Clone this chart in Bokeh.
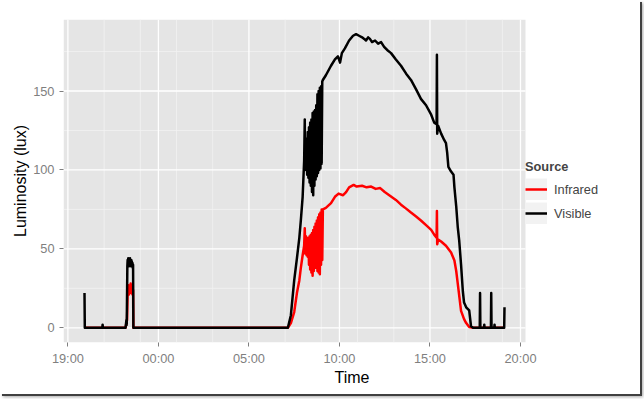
import pandas as pd
from bokeh.plotting import figure
from bokeh.models import (Range1d, FixedTicker, DatetimeTickFormatter, Legend,
                          LegendItem, ColumnDataSource)
from bokeh.embed import file_html
from bokeh.resources import INLINE

# ---------------- data ----------------
visible_time = [
    "19:55", "19:56", "20:54", "20:55", "20:56", "22:11", "22:14", "22:15",
    "22:17", "22:18", "22:19", "22:20", "22:21", "22:22", "22:23", "22:24",
    "22:25", "22:26", "22:27", "22:28", "22:29", "22:30", "22:31", "22:32",
    "22:33", "22:34", "22:35", "22:36", "22:37",
    "07:09", "07:19", "07:30", "07:39", "07:47", "07:52", "07:58", "08:03",
    "08:05", "08:06", "08:07", "08:09", "08:11", "08:13", "08:15", "08:17",
    "08:19", "08:21", "08:23", "08:25", "08:27", "08:29", "08:31", "08:33",
    "08:35", "08:37", "08:39", "08:41", "08:43", "08:45", "08:47", "08:49",
    "08:51", "08:53", "08:55", "08:57", "08:59", "09:01", "09:03", "09:05",
    "09:15", "09:32", "09:45", "09:55", "10:02", "10:08", "10:18", "10:32",
    "10:45", "10:55", "11:05", "11:15", "11:22", "11:28", "11:35", "11:41",
    "11:48", "11:58", "12:08", "12:18", "12:28", "12:38", "12:51", "13:07",
    "13:24", "13:41", "13:57", "14:14", "14:30", "14:47", "15:04", "15:14",
    "15:22", "15:23", "15:24", "15:27", "15:37", "15:47", "15:53", "15:57",
    "16:01", "16:10", "16:18", "16:21", "16:27", "16:32", "16:37", "16:43",
    "16:49", "16:53", "17:00", "17:05", "17:10", "17:16", "17:23",
    "17:45", "17:46", "17:47", "17:59", "18:00", "18:01", "18:22", "18:23",
    "18:24", "18:33", "18:34", "18:35", "19:06", "19:07",
]
visible_lux = [
    22, 0, 0, 2, 0, 0, 5, 2,
    39, 43, 40, 44, 41, 42, 39, 43,
    41, 44, 40, 42, 39, 43, 40, 42,
    39, 41, 38, 40, 0,
    0, 8, 30, 44, 57, 68, 83, 106,
    132, 104, 118, 100, 120, 97, 124, 95,
    127, 92, 130, 90, 132, 86, 136, 84,
    137, 90, 138, 94, 141, 96, 148, 98,
    150, 100, 152, 101, 153, 104, 156, 157,
    160, 166, 170, 172, 168, 174, 177, 182,
    185, 186, 185, 184, 183, 182, 184, 183,
    181, 182, 180, 181, 178, 176, 174, 170,
    166, 161, 157, 151, 145, 141, 135, 130,
    129, 173, 123, 128, 123, 119, 117, 111,
    102, 99, 97, 89, 77, 64, 55, 40,
    23, 16, 13, 12, 11, 1, 0,
    0, 22, 0, 0, 2, 0, 0, 22,
    0, 0, 2, 0, 0, 13,
]

infrared_time = [
    "19:55", "22:11", "22:14", "22:16", "22:18", "22:20", "22:22", "22:24",
    "22:26", "22:28", "22:30", "22:32", "22:34", "22:36", "22:37",
    "07:09", "07:19", "07:30", "07:39", "07:47", "07:52", "07:58", "08:03",
    "08:05", "08:07", "08:09", "08:11", "08:13", "08:15", "08:17", "08:19",
    "08:21", "08:23", "08:25", "08:27", "08:29", "08:31", "08:33", "08:35",
    "08:37", "08:39", "08:41", "08:43", "08:45", "08:47", "08:49", "08:51",
    "08:53", "08:55", "08:57", "08:59", "09:01", "09:03", "09:05",
    "09:15", "09:32", "09:45", "09:57", "10:12", "10:22", "10:32", "10:47",
    "10:57", "11:15", "11:30", "11:45", "12:00", "12:15", "12:30", "12:45",
    "13:07", "13:24", "13:41", "13:57", "14:14", "14:30", "14:47", "15:04",
    "15:14", "15:22", "15:23", "15:24", "15:27", "15:37", "15:53", "16:10",
    "16:21", "16:27", "16:33", "16:43", "16:53", "17:00", "17:10", "17:23",
    "19:07",
]
infrared_lux = [
    0, 0, 3, 5, 22, 27, 21, 26,
    23, 28, 22, 25, 21, 24, 0,
    0, 3, 10, 22, 30, 38, 46, 52,
    63, 47, 58, 46, 57, 45, 57, 40,
    58, 37, 59, 35, 60, 33, 62, 36,
    64, 38, 66, 38, 68, 36, 70, 35,
    72, 34, 73, 40, 75, 43, 75,
    76, 79, 83, 85, 84, 86, 89, 90.5,
    89.5, 90, 89, 89.5, 88, 88.5, 86, 84,
    81, 78, 75.5, 73, 70.5, 68, 65, 62,
    59, 57, 74, 53, 56, 54.7, 52, 47.7,
    42.6, 36, 26.6, 10.7, 5.5, 3, 0.5, 0,
    0,
]

x_tick_labels = ["19:00", "00:00", "05:00", "10:00", "15:00", "20:00"]
x_minor_ticks = ["21:00", "23:00", "01:00", "03:00", "07:00", "09:00",
                 "11:00", "13:00", "17:00", "19:00"]
y_ticks = [0, 50, 100, 150]
y_minor_ticks = [25, 75, 125, 175]

series_names = ["Infrared", "Visible"]
series_colors = ["#FF0000", "#000000"]

# ---------------- helpers ----------------
BASE = pd.Timestamp("2013-06-01")


def to_ms(hhmm_list):
    """Clock times that run on past midnight -> epoch milliseconds."""
    out, day, prev = [], 0, -1
    for s in hhmm_list:
        h, m = map(int, s.split(":"))
        mins = h * 60 + m
        if mins < prev:
            day += 1
        prev = mins
        t = BASE + pd.Timedelta(days=day, minutes=mins)
        out.append(t.value / 1e6)
    return out


vis_x = to_ms(visible_time)
ir_x = to_ms(infrared_time)
xt = to_ms(x_tick_labels)
xm = to_ms(["19:00"] + x_minor_ticks)[1:]

# ggplot-like 5% expansion of the data range -> panel limits
xmin, xmax = min(vis_x + ir_x), max(vis_x + ir_x)
ymin, ymax = min(visible_lux + infrared_lux), max(visible_lux + infrared_lux)
px0 = xmin - 0.05 * (xmax - xmin)
px1 = xmax + 0.05 * (xmax - xmin)
py0 = ymin - 0.05 * (ymax - ymin)
py1 = ymax + 0.05 * (ymax - ymin)

FONT = "Liberation Sans"
W, H = 640, 394
LEFT, TOP, BOTTOM = 63, 19, 52
PANEL_W = 462                      # grey panel width; legend lives to its right
FRAME_W = W - LEFT
x_end = px0 + (px1 - px0) * FRAME_W / PANEL_W

p = figure(width=W, height=H, output_backend="svg", toolbar_location=None,
           x_axis_type="datetime",
           x_range=Range1d(px0, x_end), y_range=Range1d(py0, py1),
           min_border_left=LEFT, min_border_right=0,
           min_border_top=TOP, min_border_bottom=BOTTOM)
p.styles = {"box-shadow": "2px 2px 0px #404040, 3px 3px 3px rgba(0,0,0,0.35)"}
p.background_fill_color = "white"
p.border_fill_color = "white"
p.outline_line_color = None
p.grid.visible = False

# grey panel + ggplot-style grid
p.quad(left=[px0], right=[px1], bottom=[py0], top=[py1],
       fill_color="#E5E5E5", line_color=None)
p.segment(x0=xm, x1=xm, y0=[py0] * len(xm), y1=[py1] * len(xm),
          line_color="#F2F2F2", line_width=0.8)
p.segment(x0=[px0] * len(y_minor_ticks), x1=[px1] * len(y_minor_ticks),
          y0=y_minor_ticks, y1=y_minor_ticks, line_color="#F2F2F2", line_width=0.8)
p.segment(x0=xt, x1=xt, y0=[py0] * len(xt), y1=[py1] * len(xt),
          line_color="white", line_width=1.3)
p.segment(x0=[px0] * len(y_ticks), x1=[px1] * len(y_ticks),
          y0=y_ticks, y1=y_ticks, line_color="white", line_width=1.3)

p.xaxis.ticker = FixedTicker(ticks=xt, minor_ticks=[])
p.yaxis.ticker = FixedTicker(ticks=y_ticks, minor_ticks=[])
p.xaxis.formatter = DatetimeTickFormatter(hours="%H:%M", days="%H:%M",
                                          hourmin="%H:%M", minutes="%H:%M")

for ax in (p.xaxis, p.yaxis):
    ax.axis_line_color = None
    ax.minor_tick_line_color = None
    ax.major_tick_line_color = "#7F7F7F"
    ax.major_tick_line_width = 1
    ax.major_tick_out = 4
    ax.major_tick_in = 0
    ax.major_label_text_font = FONT
    ax.major_label_text_font_size = "12.8px"
    ax.major_label_text_color = "#7F7F7F"
    ax.axis_label_text_font = FONT
    ax.axis_label_text_font_size = "16px"
    ax.axis_label_text_font_style = "normal"
    ax.axis_label_text_color = "black"

p.xaxis.axis_label = "Time"
p.yaxis.axis_label = "Luminosity (lux)"
p.xaxis.major_label_standoff = 4
p.yaxis.major_label_standoff = 5
p.xaxis.axis_label_standoff = 0
p.yaxis.axis_label_standoff = 1

src_ir = ColumnDataSource(dict(t=ir_x, v=infrared_lux))
src_vis = ColumnDataSource(dict(t=vis_x, v=visible_lux))
r_ir = p.line("t", "v", source=src_ir, line_color=series_colors[0],
              line_width=2.5, line_join="round")
r_vis = p.line("t", "v", source=src_vis, line_color=series_colors[1],
               line_width=2.5, line_join="round")

# grey key background for the legend (ggplot style); a single point draws
# nothing in the panel, only its legend swatch
key_bg = p.line(x=[xt[0]], y=[y_ticks[0]], line_color="#F2F2F2", line_width=22)

legend = Legend(items=[LegendItem(label=series_names[0], renderers=[key_bg, r_ir]),
                       LegendItem(label=series_names[1], renderers=[key_bg, r_vis])],
                location=(PANEL_W, 118))
legend.title = "Source"
legend.title_text_font = FONT
legend.title_text_font_size = "12.8px"
legend.title_text_font_style = "bold"
legend.title_standoff = 4
legend.label_text_font = FONT
legend.label_text_font_size = "12.8px"
legend.label_standoff = 7
legend.glyph_width = 22
legend.glyph_height = 22
legend.spacing = 2
legend.margin = 0
legend.padding = 10
legend.background_fill_alpha = 0
legend.border_line_color = None
p.add_layout(legend, "center")

open("out.html", "w").write(file_html(p, INLINE))
